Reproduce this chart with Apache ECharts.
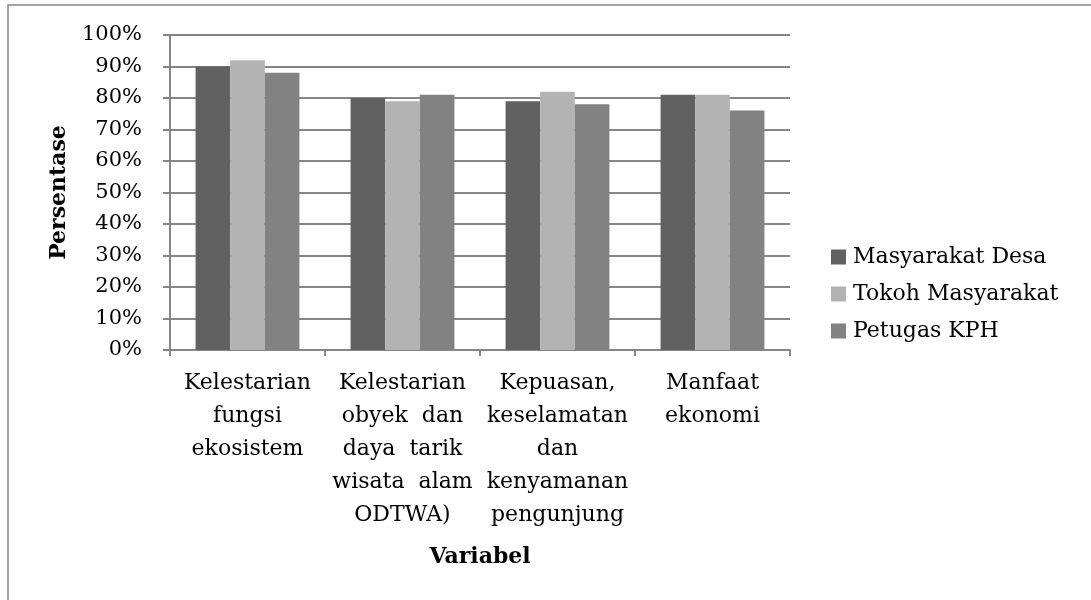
<!DOCTYPE html>
<html>
<head>
<meta charset="utf-8">
<script src="https://cdn.jsdelivr.net/npm/echarts@6/dist/echarts.min.js"></script>
<style>
  html, body { margin: 0; padding: 0; background: #fff; }
  #chart { width: 1091px; height: 600px; }
</style>
</head>
<body>
<div id="chart"></div>
<script>
// Variables assessed (x-axis categories)
const categories = [
  'Kelestarian\nfungsi\nekosistem',
  'Kelestarian\nobyek  dan\ndaya  tarik\nwisata  alam\nODTWA)',
  'Kepuasan,\nkeselamatan\ndan\nkenyamanan\npengunjung',
  'Manfaat\nekonomi'
];

// Respondent groups
const seriesNames = ['Masyarakat Desa', 'Tokoh Masyarakat', 'Petugas KPH'];

// Percentages per group
const masyarakatDesa = [90, 80, 79, 81];
const tokohMasyarakat = [92, 79, 82, 81];
const petugasKPH = [88, 81, 78, 76];

const seriesColors = ['#616161', '#b3b3b3', '#828282'];
const font = 'DejaVu Serif';
const gridColor = '#868686';

const chart = echarts.init(document.getElementById('chart'), null, { renderer: 'canvas' });

const values = [masyarakatDesa, tokohMasyarakat, petugasKPH];

chart.setOption({
  animation: false,
  backgroundColor: '#ffffff',
  textStyle: { fontFamily: font, color: '#000' },
  graphic: [{
    type: 'rect',
    shape: { x: 8, y: 5, width: 1100, height: 610 },
    style: { fill: 'none', stroke: gridColor, lineWidth: 1.5 }
  }],
  grid: { left: 170, right: 301, top: 35, bottom: 250 },
  legend: {
    orient: 'vertical',
    left: 831,
    top: 246,
    padding: 0,
    itemWidth: 15,
    itemHeight: 15,
    itemGap: 15,
    icon: 'rect',
    textStyle: { fontFamily: font, fontSize: 22, color: '#000', lineHeight: 22, padding: [0, 0, 0, 2] },
    data: seriesNames
  },
  xAxis: {
    type: 'category',
    data: categories,
    name: 'Variabel',
    nameLocation: 'middle',
    nameGap: 196,
    nameTextStyle: { fontFamily: font, fontSize: 22, fontWeight: 'bold', color: '#000' },
    axisLine: { show: true, lineStyle: { color: gridColor, width: 2 } },
    axisTick: { show: true, length: 6, alignWithLabel: false, lineStyle: { color: gridColor, width: 2 } },
    axisLabel: {
      interval: 0,
      margin: 17,
      fontFamily: font,
      fontSize: 22,
      lineHeight: 33,
      color: '#000',
      align: 'center'
    }
  },
  yAxis: {
    type: 'value',
    min: 0,
    max: 100,
    interval: 10,
    name: 'Persentase',
    nameLocation: 'middle',
    nameRotate: 90,
    nameGap: 100,
    nameTextStyle: { fontFamily: font, fontSize: 22, fontWeight: 'bold', color: '#000' },
    axisLine: { show: true, lineStyle: { color: gridColor, width: 2 } },
    axisTick: { show: true, length: 7, lineStyle: { color: gridColor, width: 2 } },
    axisLabel: { formatter: '{value}%', margin: 28, fontFamily: font, fontSize: 21, color: '#000' },
    splitLine: { show: true, lineStyle: { color: gridColor, width: 2 } }
  },
  series: seriesNames.map((name, i) => ({
    name: name,
    type: 'bar',
    data: values[i],
    barGap: '0%',
    barCategoryGap: '33%',
    itemStyle: { color: seriesColors[i] }
  }))
});
</script>
</body>
</html>
